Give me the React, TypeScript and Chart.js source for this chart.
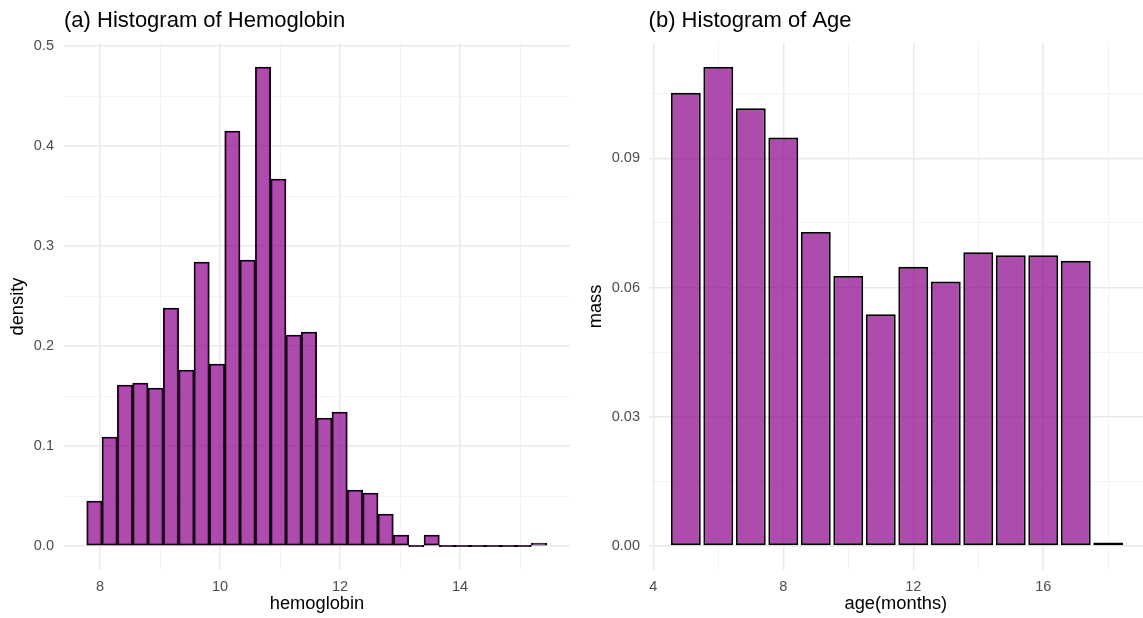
import React, { useEffect, useRef } from "react";
import { Chart, registerables } from "chart.js";
Chart.register(...registerables);

// ---------- data ----------
const hemoglobinBinCenters = [
  7.906, 8.161, 8.417, 8.672, 8.928, 9.183, 9.439, 9.694, 9.95, 10.206,
  10.461, 10.717, 10.972, 11.228, 11.483, 11.739, 11.994, 12.25, 12.506, 12.761,
  13.017, 13.272, 13.528, 13.783, 14.039, 14.294, 14.55, 14.806, 15.061, 15.317,
];
const hemoglobinDensity = [
  0.045, 0.109, 0.161, 0.163, 0.158, 0.238, 0.176, 0.284, 0.182, 0.415,
  0.286, 0.479, 0.367, 0.211, 0.214, 0.128, 0.134, 0.056, 0.053, 0.032,
  0.011, 0, 0.011, 0, 0, 0, 0, 0, 0, 0.003,
];
const ageMonths = [5, 6, 7, 8, 9, 10, 11, 12, 13, 14, 15, 16, 17, 18];
const ageMass = [
  0.1052, 0.1112, 0.1016, 0.0948, 0.0729, 0.0627, 0.0538, 0.0648, 0.0614,
  0.0682, 0.0675, 0.0675, 0.0662, 0.0008,
];

const hemoXTicks = [8, 9, 10, 11, 12, 13, 14, 15];
const hemoXLabels = [8, 10, 12, 14];
const hemoYTicks = [0, 0.05, 0.1, 0.15, 0.2, 0.25, 0.3, 0.35, 0.4, 0.45, 0.5];
const hemoYLabels = [0, 0.1, 0.2, 0.3, 0.4, 0.5];
const ageXTicks = [4, 6, 8, 10, 12, 14, 16, 18];
const ageXLabels = [4, 8, 12, 16];
const ageYTicks = [0, 0.015, 0.03, 0.045, 0.06, 0.075, 0.09, 0.105];
const ageYLabels = [0, 0.03, 0.06, 0.09];

const FONT = '"Liberation Sans", Arial, Helvetica, sans-serif';
const FILL = "rgba(139,0,139,0.7)";

const near = (list: number[], v: number) => list.some((t) => Math.abs(t - v) < 1e-9);

function textPlugin(title: string, xTitle: string, yTitle: string, yTitleX: number) {
  return {
    id: "panelText",
    afterDraw(chart: any) {
      const ctx = chart.ctx;
      const a = chart.chartArea;
      ctx.save();
      ctx.fillStyle = "#000000";
      ctx.font = `22px ${FONT}`;
      ctx.textAlign = "left";
      ctx.textBaseline = "alphabetic";
      ctx.fillText(title, a.left, 27);
      ctx.font = `18.3px ${FONT}`;
      ctx.textAlign = "center";
      ctx.fillText(xTitle, (a.left + a.right) / 2, 609);
      ctx.translate(yTitleX, (a.top + a.bottom) / 2);
      ctx.rotate(-Math.PI / 2);
      ctx.textBaseline = "middle";
      ctx.fillText(yTitle, 0, 0);
      ctx.restore();
    },
  };
}

function axis(
  ticksAll: number[],
  labels: number[],
  fmt: (v: number) => string,
  min: number,
  max: number,
  size: number,
  isX: boolean,
  pad: number
) {
  return {
    type: "linear",
    min,
    max,
    offset: false,
    afterBuildTicks: (s: any) => {
      s.ticks = ticksAll.map((v) => ({ value: v }));
    },
    afterFit: (s: any) => {
      if (isX) s.height = size;
      else s.width = size;
    },
    grid: {
      offset: false,
      drawTicks: false,
      color: (c: any) =>
        c.tick && near(labels, c.tick.value) ? "#E9E9E9" : "#F2F2F2",
      lineWidth: (c: any) => (c.tick && near(labels, c.tick.value) ? 1.5 : 0.9),
    },
    border: { display: false },
    ticks: {
      autoSkip: false,
      maxRotation: 0,
      padding: pad,
      color: "#4D4D4D",
      font: { family: FONT, size: 14.5 },
      callback: (v: number) => (near(labels, v) ? fmt(v) : ""),
    },
  };
}

function HemoChart() {
  const ref = useRef<HTMLCanvasElement>(null);
  useEffect(() => {
    const chart = new Chart(ref.current as HTMLCanvasElement, {
      type: "bar",
      data: {
        datasets: [
          {
            data: hemoglobinBinCenters.map((x, i) => ({ x, y: hemoglobinDensity[i] })),
            backgroundColor: FILL,
            borderColor: "#000000",
            borderWidth: 1.4,
            borderSkipped: false,
            barPercentage: 1,
            categoryPercentage: 1,
            minBarLength: 1.5,
          },
        ],
      },
      options: {
        responsive: false,
        animation: false,
        layout: { padding: { left: 0, right: 10, top: 43, bottom: 0 } },
        plugins: { legend: { display: false }, tooltip: { enabled: false } },
        scales: {
          x: axis(hemoXTicks, hemoXLabels, (v) => String(v), 7.4, 15.833, 48, true, 8),
          y: axis(hemoYTicks, hemoYLabels, (v) => v.toFixed(1), -0.024, 0.503, 64, false, 10),
        },
      } as any,
      plugins: [textPlugin("(a) Histogram of Hemoglobin", "hemoglobin", "density", 17.5)],
    } as any);
    return () => chart.destroy();
  }, []);
  return <canvas ref={ref} width={580} height={618} />;
}

function AgeChart() {
  const ref = useRef<HTMLCanvasElement>(null);
  useEffect(() => {
    const chart = new Chart(ref.current as HTMLCanvasElement, {
      type: "bar",
      data: {
        datasets: [
          {
            data: ageMonths.map((x, i) => ({ x, y: ageMass[i] })),
            backgroundColor: FILL,
            borderColor: "#000000",
            borderWidth: 1.9,
            borderSkipped: false,
            barPercentage: 0.92,
            categoryPercentage: 1,
          },
        ],
      },
      options: {
        responsive: false,
        animation: false,
        layout: { padding: { left: 0, right: 0, top: 43, bottom: 0 } },
        plugins: { legend: { display: false }, tooltip: { enabled: false } },
        scales: {
          x: axis(ageXTicks, ageXLabels, (v) => String(v), 3.855, 19.07, 48, true, 8),
          y: axis(ageYTicks, ageYLabels, (v) => v.toFixed(2), -0.00557, 0.11676, 68.6, false, 8.6),
        },
      } as any,
      plugins: [textPlugin("(b) Histogram of Age", "age(months)", "mass", 16)],
    } as any);
    return () => chart.destroy();
  }, []);
  return <canvas ref={ref} width={563} height={618} />;
}

export default function App() {
  return (
    <div style={{ position: "absolute", left: 0, top: 0, width: 1143, height: 618, background: "#ffffff" }}>
      <div style={{ position: "absolute", left: 0, top: 0 }}>
        <HemoChart />
      </div>
      <div style={{ position: "absolute", left: 580, top: 0 }}>
        <AgeChart />
      </div>
    </div>
  );
}
